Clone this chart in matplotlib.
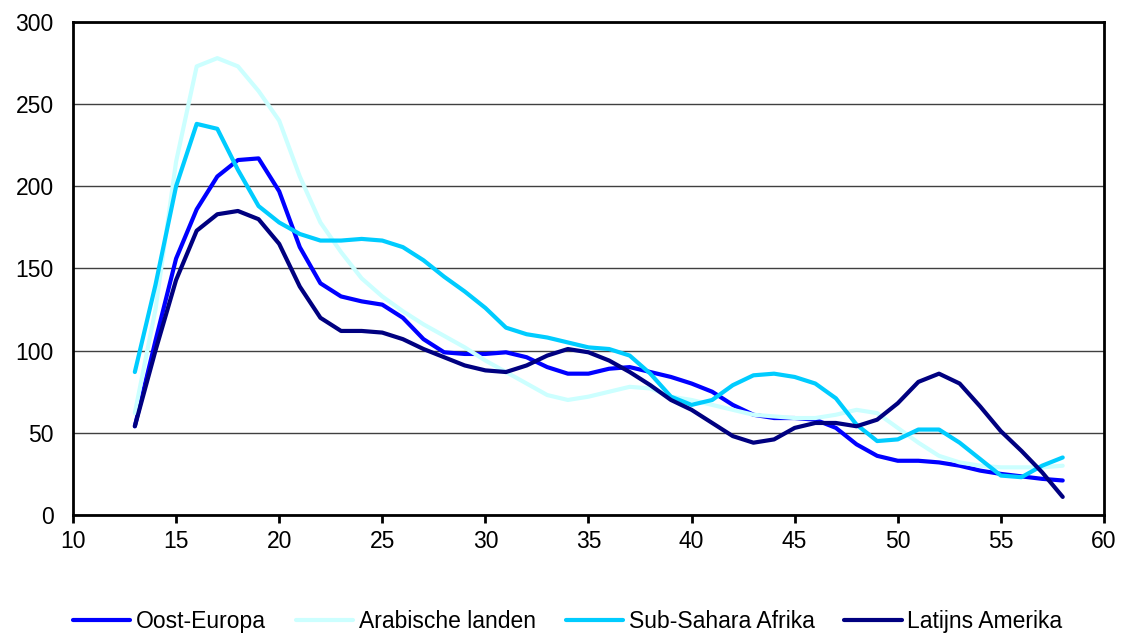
import numpy as np
import matplotlib
matplotlib.use('Agg')
import matplotlib.pyplot as plt

plt.rcParams['font.family'] = ['Liberation Sans', 'DejaVu Sans']

# leeftijd
ages = np.arange(13, 59)

oost_europa = [54, 106, 156, 186, 206, 216, 217, 197, 163, 141,
               133, 130, 128, 120, 107, 99, 98, 98, 99, 96,
               90, 86, 86, 89, 90, 87, 84, 80, 75, 67,
               61, 59, 59, 58, 53, 43, 36, 33, 33, 32,
               30, 27, 25, 23.5, 22, 21]
arabische_landen = [62, 125, 215, 273, 278, 273, 258, 240, 206, 178,
                    160, 144, 133, 124, 116, 109, 102, 94, 87, 80,
                    73, 70, 72, 75, 78, 77, 72, 70, 67, 64,
                    61, 60, 59, 59, 61, 64, 62, 53, 44, 36,
                    32, 30, 29, 29, 29, 30]
sub_sahara = [87, 140, 200, 238, 235, 210, 188, 178, 171, 167,
              167, 168, 167, 163, 155, 145, 136, 126, 114, 110,
              108, 105, 102, 101, 97, 86, 72, 67, 70, 79,
              85, 86, 84, 80, 71, 55, 45, 46, 52, 52,
              44, 34, 24, 23, 30, 35]
latijns_amerika = [54, 100, 143, 173, 183, 185, 180, 165, 139, 120,
                   112, 112, 111, 107, 101, 96, 91, 88, 87, 91,
                   97, 101, 99, 94, 87, 79, 70, 64, 56, 48,
                   44, 46, 53, 56, 56, 54, 58, 68, 81, 86,
                   80, 66, 51, 39, 26, 11]

series = [
    ('Oost-Europa', oost_europa, '#0000FF'),
    ('Arabische landen', arabische_landen, '#CCFFFF'),
    ('Sub-Sahara Afrika', sub_sahara, '#00CCFF'),
    ('Latijns Amerika', latijns_amerika, '#000080'),
]

fig = plt.figure(figsize=(11.21, 6.34), dpi=100)
ax = fig.add_axes([0.0651, 0.1877, 0.9197, 0.7776])

for name, vals, col in series:
    ax.plot(ages, vals, color=col, linewidth=3, label=name,
            solid_joinstyle='round', solid_capstyle='round')

ax.set_xlim(10, 60)
ax.set_ylim(0, 300)
ax.set_xticks(range(10, 61, 5))
ax.set_yticks(range(0, 301, 50))
ax.yaxis.grid(True, color='#404040', linewidth=1)
ax.set_axisbelow(True)
for sp in ax.spines.values():
    sp.set_linewidth(2)
    sp.set_color('black')
ax.tick_params(axis='x', direction='out', length=6, width=2, labelsize=16.5, pad=5)
ax.tick_params(axis='y', length=0, labelsize=16.5, pad=14)

ax.legend(loc='upper center', bbox_to_anchor=(0.48, -0.15), ncol=4,
          frameon=False, fontsize=16.5, handlelength=2.5, handletextpad=0.25,
          columnspacing=1.3)

fig.savefig('out.png', dpi=100)
